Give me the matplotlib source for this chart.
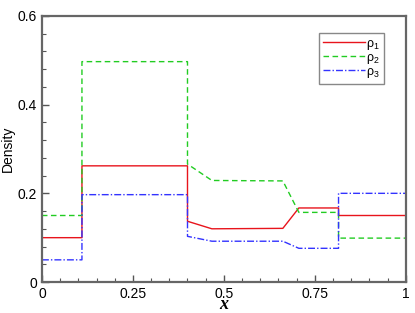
import matplotlib.pyplot as plt
from matplotlib.ticker import MultipleLocator

plt.rcParams['font.family'] = ['Liberation Sans', 'DejaVu Sans']
plt.rcParams['mathtext.default'] = 'regular'

# breakpoints
x_pts = [0, 0.11, 0.11, 0.4, 0.4, 0.467, 0.662, 0.706, 0.815, 0.815, 1.0]
rho1 = [0.1, 0.1, 0.262, 0.262, 0.137, 0.12, 0.121, 0.167, 0.167, 0.15, 0.15]
rho2 = [0.15, 0.15, 0.497, 0.497, 0.266, 0.229, 0.228, 0.157, 0.157, 0.099, 0.099]
rho3 = [0.05, 0.05, 0.197, 0.197, 0.103, 0.092, 0.092, 0.076, 0.076, 0.2, 0.2]

x_ticks = [0, 0.25, 0.5, 0.75, 1]
x_tick_labels = ['0', '0.25', '0.5', '0.75', '1']
y_ticks = [0, 0.2, 0.4, 0.6]
y_tick_labels = ['0', '0.2', '0.4', '0.6']

fig = plt.figure(figsize=(4.15, 3.13), dpi=100)
ax = fig.add_axes([0.101, 0.099, 0.877, 0.85])

ax.plot(x_pts, rho1, color='#e8141c', lw=1.0, ls='-', label=r'$\rho_1$')
ax.plot(x_pts, rho2, color='#22cc22', lw=1.0, ls=(0, (4, 2.5)), label=r'$\rho_2$')
ax.plot(x_pts, rho3, color='#3333ff', lw=1.0, ls=(0, (5, 1.5, 1, 1.5)), label=r'$\rho_3$')

ax.set_xlim(0, 1)
ax.set_ylim(0, 0.6)
ax.set_xticks(x_ticks)
ax.set_xticklabels(x_tick_labels)
ax.set_yticks(y_ticks)
ax.set_yticklabels(y_tick_labels)
ax.xaxis.set_minor_locator(MultipleLocator(0.05))
ax.yaxis.set_minor_locator(MultipleLocator(0.04))
ax.tick_params(which='both', direction='in', top=False, right=False, labelsize=10, color='#555555')
ax.tick_params(which='major', length=5, width=1)
ax.tick_params(which='minor', length=3, width=0.8)
for s in ax.spines.values():
    s.set_color('#666666')
    s.set_linewidth(1.6)

ax.set_xlabel('x', fontsize=13, fontstyle='italic', fontweight='bold', family='Liberation Serif',
              va='baseline')
ax.xaxis.set_label_coords(0.5, -0.102)
ax.set_ylabel('Density', fontsize=10)
ax.yaxis.set_label_coords(-0.075, 0.5)

leg = ax.legend(loc='upper right', bbox_to_anchor=(0.94, 0.935), fontsize=9, handlelength=3.3,
                handletextpad=0.1, labelspacing=0.0, borderpad=0.35, fancybox=False,
                framealpha=1, edgecolor='#888888', borderaxespad=0)
leg.get_frame().set_linewidth(1.0)

fig.savefig('out.png', dpi=100)
